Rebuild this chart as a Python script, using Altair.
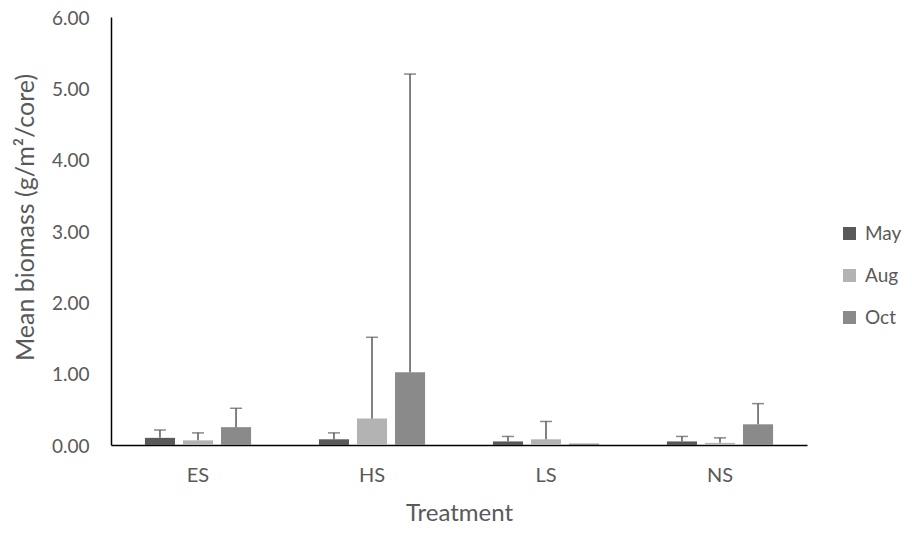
import altair as alt
import pandas as pd

treatments = ["ES", "HS", "LS", "NS"]
months = ["May", "Aug", "Oct"]
may_vals = [0.10, 0.08, 0.05, 0.05]
aug_vals = [0.065, 0.37, 0.08, 0.03]
oct_vals = [0.25, 1.02, 0.02, 0.29]
may_upper = [0.21, 0.17, 0.12, 0.12]
aug_upper = [0.17, 1.51, 0.33, 0.10]
oct_upper = [0.515, 5.20, None, 0.58]
colors = ["#595959", "#b3b3b3", "#8a8a8a"]

rows = []
for m, vals, ups in zip(months, [may_vals, aug_vals, oct_vals], [may_upper, aug_upper, oct_upper]):
    for t, v, u in zip(treatments, vals, ups):
        rows.append({"Treatment": t, "Month": m, "value": v, "upper": u})
df = pd.DataFrame(rows)

FONT = "Lato"
TXT = "#595959"

x = alt.X("Treatment:N", sort=treatments,
          scale=alt.Scale(paddingInner=0.39, paddingOuter=0.195),
          axis=alt.Axis(title="Treatment", labelAngle=0, ticks=False, domainColor="#000000",
                        domainWidth=1.5, labelPadding=20, titlePadding=16,
                        labelFontSize=20, titleFontSize=24))
xo = alt.XOffset("Month:N", sort=months, scale=alt.Scale(paddingInner=0.21, paddingOuter=0))
y = alt.Y("value:Q", scale=alt.Scale(domain=[0, 6], nice=False),
          axis=alt.Axis(title="Mean biomass (g/m²/core)", format=".2f", values=[0, 1, 2, 3, 4, 5, 6],
                        grid=False, ticks=False, domainColor="#000000", domainWidth=1.5,
                        labelPadding=22, titlePadding=13, labelFontSize=19, titleFontSize=25,
                        labelBaseline="alphabetic", labelOffset=7,
                        titleY=200))

bars = alt.Chart(df).mark_bar().encode(
    x=x, xOffset=xo, y=y,
    color=alt.Color("Month:N", sort=months, scale=alt.Scale(domain=months, range=colors),
                    legend=alt.Legend(title=None, orient="none", legendX=729, legendY=207,
                                      symbolType="square", symbolSize=169, symbolStrokeWidth=0,
                                      rowPadding=22, labelFontSize=19, labelColor=TXT, labelFont=FONT,
                                      labelOffset=6)),
)

err = alt.Chart(df).transform_filter("datum.upper != null").mark_rule(color="#595959", strokeWidth=1.5).encode(
    x=alt.X("Treatment:N", sort=treatments), xOffset=alt.XOffset("Month:N", sort=months),
    y="value:Q", y2="upper:Q")
caps = alt.Chart(df).transform_filter("datum.upper != null").mark_tick(color="#595959", thickness=1.5, size=12).encode(
    x=alt.X("Treatment:N", sort=treatments), xOffset=alt.XOffset("Month:N", sort=months),
    y="upper:Q")

chart = alt.layer(bars, err, caps).properties(
    width=696, height=428,
    autosize=alt.AutoSizeParams(type="none"),
    padding={"left": 103, "top": 9, "right": 97, "bottom": 80},
).configure_view(stroke=None).configure_axis(
    labelFont=FONT, titleFont=FONT, labelColor=TXT, titleColor=TXT,
    titleFontWeight="normal",
)

chart.save("out.html", embed_options={"renderer": "svg", "actions": False})
